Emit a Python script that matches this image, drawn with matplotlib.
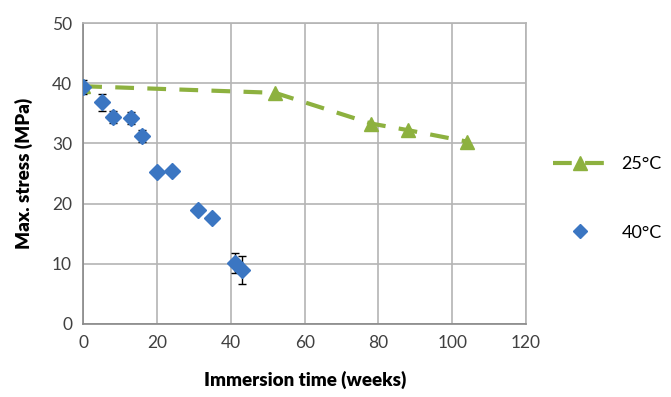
import matplotlib
matplotlib.use("Agg")
from matplotlib import pyplot as plt
from matplotlib.lines import Line2D

# 25°C series
t25 = [0, 52, 78, 88, 104]
s25 = [39.5, 38.4, 33.3, 32.2, 30.3]

# 40°C series with error bars
t40 = [0, 5, 8, 13, 16, 20, 24, 31, 35, 41, 43]
s40 = [39.4, 36.8, 34.4, 34.2, 31.2, 25.3, 25.4, 18.9, 17.6, 10.1, 9.0]
e40 = [1.2, 1.35, 1.05, 0.95, 1.05, 0.5, 0.5, 0.3, 0.3, 1.7, 2.3]

plt.rcParams['font.family'] = ['Lato', 'DejaVu Sans']

fig = plt.figure(figsize=(6.71, 3.97), dpi=100)
ax = fig.add_axes([0.124, 0.184, 0.660, 0.758])

green = '#8db13f'
blue = '#3b76c2'

ax.plot(t25, s25, color=green, lw=3, ls=(0, (4.5, 3.2)), marker='^', ms=10,
        markeredgecolor=green, zorder=3)
ax.errorbar(t40, s40, yerr=e40, fmt='none', ecolor='black',
            elinewidth=1, capsize=3, capthick=1, zorder=4)
ax.plot(t40, s40, 'D', color=blue, ms=8.5, zorder=5)

ax.set_xlim(0, 120)
ax.set_ylim(0, 50)
ax.set_xticks(range(0, 121, 20))
ax.set_yticks(range(0, 51, 10))
ax.grid(True, color='#b4b4b4', lw=1.2)
ax.set_axisbelow(True)
for sp in ax.spines.values():
    sp.set_color('#b4b4b4')
    sp.set_linewidth(1.2)
ax.spines['left'].set_color('#888888')
ax.spines['bottom'].set_color('#888888')
ax.tick_params(length=0, labelsize=12.5, pad=8, colors='#404040')

ax.set_xlabel('Immersion time (weeks)', fontsize=13.5, fontweight='heavy', labelpad=14)
ax.set_ylabel('Max. stress (MPa)', fontsize=13.5, fontweight='heavy', labelpad=14)

handles = [
    Line2D([], [], color=green, lw=3, ls=(0, (4.5, 3.2)), marker='^', ms=10),
    Line2D([], [], color=blue, ls='none', marker='D', ms=7.5),
]
fig.legend(handles, ['25°C', '40°C'], loc='center left', bbox_to_anchor=(0.80, 0.50),
           frameon=False, fontsize=13, handlelength=3.0, labelspacing=2.9,
           handletextpad=0.8)

plt.savefig('out.png', dpi=100)
